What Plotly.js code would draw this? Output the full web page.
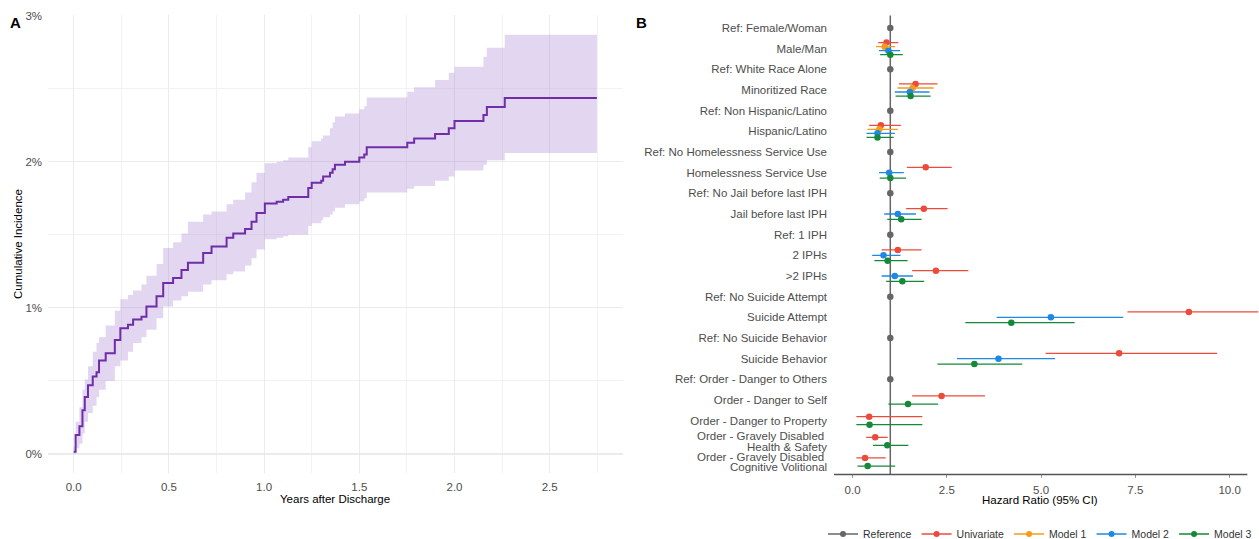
<!DOCTYPE html>
<html>
<head>
<meta charset="utf-8">
<script src="https://cdn.plot.ly/plotly-3.0.1.min.js"></script>
<style>html,body{margin:0;padding:0;background:#fff;}#chart{width:1259px;height:539px;}</style>
</head>
<body>
<div id="chart"></div>
<script>
// ---------- Panel A: cumulative incidence (percent) ----------
const kmTime = [0.000,0.010,0.030,0.046,0.058,0.075,0.100,0.120,0.133,0.168,0.216,0.245,0.285,0.312,0.356,0.382,0.435,0.470,0.522,0.566,0.600,0.680,0.724,0.803,0.838,0.900,0.934,0.960,1.004,1.066,1.100,1.127,1.232,1.250,1.300,1.310,1.346,1.360,1.372,1.425,1.500,1.526,1.539,1.752,1.788,1.898,1.970,2.000,2.152,2.170,2.264,2.748];
const kmEst  = [0.016,0.13,0.19,0.30,0.39,0.47,0.53,0.56,0.64,0.69,0.78,0.86,0.885,0.92,0.94,1.01,1.08,1.17,1.205,1.26,1.31,1.376,1.42,1.48,1.51,1.54,1.59,1.65,1.715,1.726,1.74,1.76,1.82,1.857,1.87,1.90,1.925,1.95,1.98,2.00,2.03,2.05,2.10,2.13,2.16,2.19,2.23,2.28,2.32,2.375,2.437,2.437];
const kmLower= [0.00,0.04,0.07,0.14,0.22,0.28,0.33,0.39,0.44,0.50,0.60,0.64,0.70,0.76,0.80,0.85,0.93,1.01,1.05,1.08,1.11,1.16,1.19,1.23,1.25,1.29,1.34,1.40,1.47,1.48,1.49,1.50,1.56,1.58,1.60,1.62,1.64,1.66,1.685,1.71,1.73,1.75,1.79,1.815,1.835,1.87,1.90,1.94,1.98,2.01,2.06,2.06];
const kmUpper= [0.05,0.22,0.32,0.44,0.51,0.60,0.70,0.76,0.80,0.88,0.98,1.06,1.09,1.12,1.16,1.22,1.30,1.41,1.45,1.51,1.59,1.64,1.66,1.71,1.74,1.79,1.86,1.925,1.99,2.00,2.01,2.03,2.10,2.14,2.16,2.18,2.23,2.27,2.31,2.33,2.36,2.38,2.44,2.48,2.51,2.56,2.61,2.65,2.72,2.78,2.87,2.87];
const kmYTicks = [0,1,2,3];
const kmYTickText = ['0%','1%','2%','3%'];
const kmXTicks = [0,0.5,1,1.5,2,2.5];

// ---------- Panel B: hazard ratios ----------
const rowLabels = [
  'Ref: Female/Woman','Male/Man','Ref: White Race Alone','Minoritized Race',
  'Ref: Non Hispanic/Latino','Hispanic/Latino','Ref: No Homelessness Service Use','Homelessness Service Use',
  'Ref: No Jail before last IPH','Jail before last IPH','Ref: 1 IPH','2 IPHs','>2 IPHs',
  'Ref: No Suicide Attempt','Suicide Attempt','Ref: No Suicide Behavior','Suicide Behavior',
  'Ref: Order - Danger to Others','Order - Danger to Self','Order - Danger to Property',
  'Order - Gravely Disabled \nHealth & Safety','Order - Gravely Disabled \nCognitive Volitional'
];
const refRows = ['Ref: Female/Woman','Ref: White Race Alone','Ref: Non Hispanic/Latino','Ref: No Homelessness Service Use','Ref: No Jail before last IPH','Ref: 1 IPH','Ref: No Suicide Attempt','Ref: No Suicide Behavior','Ref: Order - Danger to Others'];
const refHR = [1,1,1,1,1,1,1,1,1];

const uniRows = ['Male/Man','Minoritized Race','Hispanic/Latino','Homelessness Service Use','Jail before last IPH','2 IPHs','>2 IPHs','Suicide Attempt','Suicide Behavior','Order - Danger to Self','Order - Danger to Property','Order - Gravely Disabled \nHealth & Safety','Order - Gravely Disabled \nCognitive Volitional'];
const uniHR  = [0.90,1.67,0.75,1.94,1.89,1.20,2.21,8.92,7.07,2.36,0.44,0.60,0.33];
const uniLo  = [0.68,1.23,0.44,1.44,1.42,0.77,1.58,7.29,5.12,1.58,0.10,0.36,0.10];
const uniHi  = [1.21,2.25,1.28,2.63,2.52,1.83,3.07,10.76,9.67,3.51,1.85,0.93,0.88];

const m1Rows = ['Male/Man','Minoritized Race','Hispanic/Latino'];
const m1HR   = [0.85,1.59,0.71];
const m1Lo   = [0.62,1.19,0.39];
const m1Hi   = [1.13,2.15,1.20];

const m2Rows = ['Male/Man','Minoritized Race','Hispanic/Latino','Homelessness Service Use','Jail before last IPH','2 IPHs','>2 IPHs','Suicide Attempt','Suicide Behavior'];
const m2HR   = [0.95,1.52,0.66,0.97,1.20,0.82,1.12,5.26,3.87];
const m2Lo   = [0.70,1.12,0.37,0.70,0.84,0.52,0.77,3.82,2.77];
const m2Hi   = [1.26,2.04,1.12,1.36,1.68,1.27,1.60,7.18,5.37];

const m3Rows = ['Male/Man','Minoritized Race','Hispanic/Latino','Homelessness Service Use','Jail before last IPH','2 IPHs','>2 IPHs','Suicide Attempt','Suicide Behavior','Order - Danger to Self','Order - Danger to Property','Order - Gravely Disabled \nHealth & Safety','Order - Gravely Disabled \nCognitive Volitional'];
const m3HR   = [1.00,1.54,0.66,1.00,1.29,0.93,1.32,4.21,3.23,1.47,0.45,0.92,0.40];
const m3Lo   = [0.73,1.14,0.37,0.72,0.92,0.58,0.89,2.99,2.25,0.95,0.10,0.54,0.13];
const m3Hi   = [1.33,2.07,1.09,1.42,1.83,1.46,1.90,5.89,4.50,2.27,1.85,1.48,1.13];

const hrTicks = [0,2.5,5,7.5,10];
const seriesNames = ['Reference','Univariate','Model 1','Model 2','Model 3'];
const seriesColors = ['#666666','#EC4B3C','#F39C1A','#1E88E5','#15883A'];

// ---------- build ----------
const W = 1259, H = 539;
const FONT = 'Arial, "Liberation Sans", sans-serif';
const TXT = '#4d4d4d';
const LAB = 11.5;

const groups = [
  {name:'Reference', rows:refRows, hr:refHR, lo:null, hi:null},
  {name:'Univariate', rows:uniRows, hr:uniHR, lo:uniLo, hi:uniHi},
  {name:'Model 1', rows:m1Rows, hr:m1HR, lo:m1Lo, hi:m1Hi},
  {name:'Model 2', rows:m2Rows, hr:m2HR, lo:m2Lo, hi:m2Hi},
  {name:'Model 3', rows:m3Rows, hr:m3HR, lo:m3Lo, hi:m3Hi}
];
const present = {};
rowLabels.forEach(r => present[r] = []);
groups.forEach((g, gi) => g.rows.forEach(r => present[r].push(gi)));
const DODGE = 0.78;
function yPos(row, gi) {
  const list = present[row];
  const n = list.length, k = list.indexOf(gi);
  const base = rowLabels.indexOf(row);
  if (n <= 1) return base;
  return base - DODGE/2 + DODGE/(2*n) + k*DODGE/n;
}

const traces = [];
// Panel A
traces.push({x:kmTime, y:kmLower, type:'scatter', mode:'lines', line:{width:0, shape:'hv'}, hoverinfo:'skip', showlegend:false, xaxis:'x', yaxis:'y'});
traces.push({x:kmTime, y:kmUpper, type:'scatter', mode:'lines', line:{width:0, shape:'hv'}, fill:'tonexty', fillcolor:'rgba(160,120,205,0.30)', hoverinfo:'skip', showlegend:false, xaxis:'x', yaxis:'y'});
traces.push({x:kmTime, y:kmEst, type:'scatter', mode:'lines', line:{width:2, color:'#6F2DA8', shape:'hv'}, showlegend:false, xaxis:'x', yaxis:'y'});

// Panel B
groups.forEach((g, gi) => {
  const t = {
    x: g.hr, y: g.rows.map(r => yPos(r, gi)), type:'scatter', mode:'markers',
    marker:{size:6.5, color:seriesColors[gi]}, showlegend:false, xaxis:'x2', yaxis:'y2'
  };
  if (g.lo) {
    t.error_x = {type:'data', symmetric:false, array:g.hi.map((v,i)=>v-g.hr[i]), arrayminus:g.hr.map((v,i)=>v-g.lo[i]), width:0, thickness:1.3, color:seriesColors[gi]};
  }
  traces.push(t);
});
seriesNames.forEach((nm, i) => {
  traces.push({x:[null], y:[null], type:'scatter', mode:'lines+markers', name:nm, line:{color:seriesColors[i], width:1.5}, marker:{size:6, color:seriesColors[i]}, xaxis:'x2', yaxis:'y2'});
});

const px = v => v / W, py = v => 1 - v / H;
const xB0 = -0.493, xB1 = 10.78, xAxisEnd = 10.47;

// single-line labels go on the axis; two-line labels are drawn line by line (tight spacing like the original)
const tickText = rowLabels.map(l => l.includes('\n') ? '' : l);
const labelAnns = [];
rowLabels.forEach((l, i) => {
  if (!l.includes('\n')) return;
  const parts = l.split('\n');
  parts.forEach((p, j) => {
    labelAnns.push({text:p.trim(), xref:'paper', yref:'y2', x:px(828), y:i, xanchor:'right', yanchor:'middle', yshift:(j === 0 ? 5.2 : -5.2), xshift:(j === 0 ? -3 : 0), showarrow:false, font:{size:LAB, color:TXT}, borderpad:0});
  });
});

const layout = {
  width: W, height: H,
  margin:{l:0, r:0, t:0, b:0, autoexpand:false},
  paper_bgcolor:'#fff', plot_bgcolor:'rgba(0,0,0,0)',
  font:{family:FONT, size:11, color:TXT},
  showlegend:true,
  xaxis:{domain:[px(48), px(623)], range:[-0.135, 2.885], tickvals:kmXTicks, tickformat:'.1f', showgrid:true, gridcolor:'#ebebeb', gridwidth:1.1, zeroline:false, showline:false, ticks:'', ticklabelstandoff:5, tickfont:{size:LAB, color:TXT}, minor:{dtick:0.25, tick0:0, showgrid:true, gridcolor:'#efefef', gridwidth:0.8}, fixedrange:true, automargin:false},
  yaxis:{domain:[py(473), py(15)], range:[-0.13, 3.005], tickvals:kmYTicks, ticktext:kmYTickText, showgrid:true, gridcolor:'#ebebeb', gridwidth:1.1, zeroline:false, showline:false, ticks:'', ticklabelstandoff:5, tickfont:{size:LAB, color:TXT}, minor:{dtick:0.5, tick0:0, showgrid:true, gridcolor:'#efefef', gridwidth:0.8}, fixedrange:true, automargin:false},
  xaxis2:{domain:[px(834), 1], range:[xB0, xB1], tickvals:hrTicks, tickformat:'.1f', showgrid:false, zeroline:false, showline:false, ticks:'outside', ticklen:3, tickcolor:'#999', tickwidth:1, ticklabelstandoff:2, tickfont:{size:LAB, color:TXT}, anchor:'y2', fixedrange:true, automargin:false},
  yaxis2:{domain:[py(474.4), py(15.6)], range:[21.6, -0.6], tickvals:rowLabels.map((_,i)=>i), ticktext:tickText, showgrid:false, zeroline:false, showline:false, ticks:'', ticklabelstandoff:6, tickfont:{size:LAB, color:TXT}, anchor:'x2', fixedrange:true, automargin:false},
  shapes:[
    {type:'line', xref:'x2', yref:'y2 domain', x0:1, x1:1, y0:0, y1:1, line:{color:'#666666', width:1.5}, layer:'below'},
    {type:'line', xref:'x2', yref:'y2 domain', x0:xB0, x1:xAxisEnd, y0:0, y1:0, line:{color:'#555555', width:1.5}}
  ],
  annotations:[
    {text:'<b>A</b>', xref:'paper', yref:'paper', x:px(16), y:py(23), xanchor:'center', yanchor:'middle', showarrow:false, font:{size:15, color:'#000'}},
    {text:'<b>B</b>', xref:'paper', yref:'paper', x:px(641), y:py(23), xanchor:'center', yanchor:'middle', showarrow:false, font:{size:15, color:'#000'}},
    {text:'Cumulative Incidence', xref:'paper', yref:'paper', x:px(18), y:py(244), textangle:-90, xanchor:'center', yanchor:'middle', showarrow:false, font:{size:11.5, color:'#000'}},
    {text:'Years after Discharge', xref:'paper', yref:'paper', x:px(335), y:py(499), xanchor:'center', yanchor:'middle', showarrow:false, font:{size:11.5, color:'#000'}},
    {text:'Hazard Ratio (95% CI)', xref:'paper', yref:'paper', x:px(1040), y:py(500), xanchor:'center', yanchor:'middle', showarrow:false, font:{size:11.5, color:'#000'}}
  ].concat(labelAnns),
  legend:{orientation:'h', x:px(1040), xanchor:'center', y:py(534), yanchor:'middle', font:{size:10.5, color:'#333'}, itemwidth:30, bgcolor:'rgba(0,0,0,0)', traceorder:'normal'}
};

Plotly.newPlot('chart', traces, layout, {displayModeBar:false, staticPlot:true});
</script>
</body>
</html>
